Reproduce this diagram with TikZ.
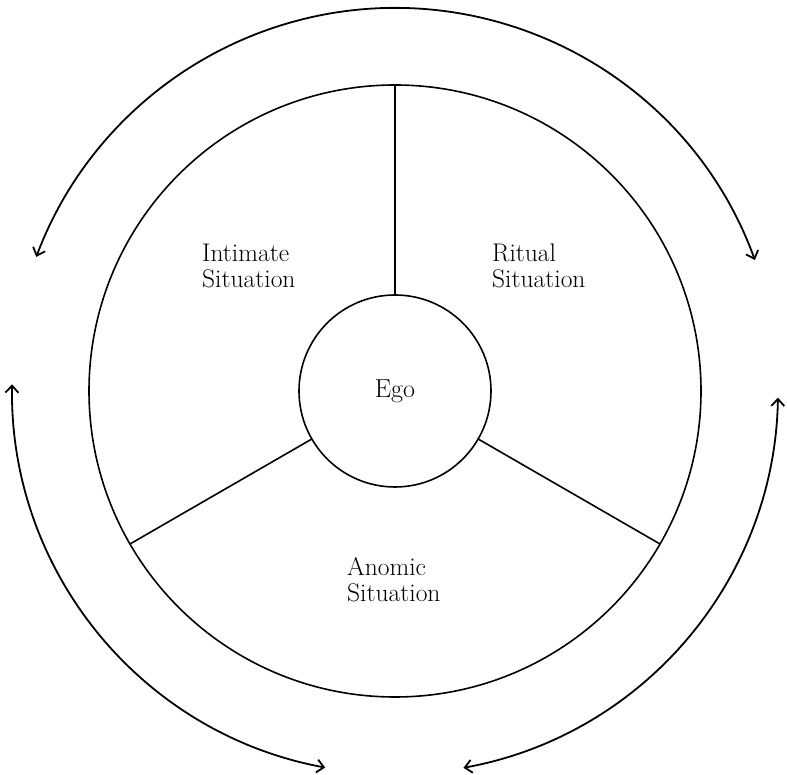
\documentclass[tikz,border=0pt]{standalone}
\usetikzlibrary{arrows.meta,calc}
\begin{document}
\begin{tikzpicture}[x=1pt,y=1pt,
  ring/.style={circle,draw,line width=1.6pt,inner sep=0pt,outer sep=0pt},
  spoke/.style={line width=1.6pt},
  cyc/.style={line width=1.8pt,{Straight Barb[length=7pt,width=13pt,line width=1.8pt]}-{Straight Barb[length=7pt,width=13pt,line width=1.8pt]}},
  lab/.style={align=left,inner sep=0pt,anchor=base west,font=\fontsize{25.5}{26}\selectfont}]
\useasboundingbox (0,0) rectangle (787,775);
\coordinate (c) at (395,384);
\node[ring,minimum size=612pt] (outer) at (c) {};
\node[ring,minimum size=192pt,font=\fontsize{26}{28}\selectfont] (ego) at (c) {Ego};
\draw[spoke] (ego.90) -- (outer.90);
\draw[spoke] (ego.210) -- (outer.210);
\draw[spoke] (ego.330) -- (outer.330);
\draw[cyc] ($(c)+(20:383)$) arc[start angle=20,end angle=159.5,radius=383];
\draw[cyc] ($(c)+(179:383)$) arc[start angle=179,end angle=259.5,radius=383];
\draw[cyc] ($(c)+(-79.7:383)$) arc[start angle=-79.7,end angle=-1,radius=383];
\node[lab] (intimate) at (202,487) {Intimate\\Situation};
\node[lab] (ritual) at (492,487) {Ritual\\Situation};
\node[lab] (anomic) at (347,173) {Anomic\\Situation};
\end{tikzpicture}
\end{document}
